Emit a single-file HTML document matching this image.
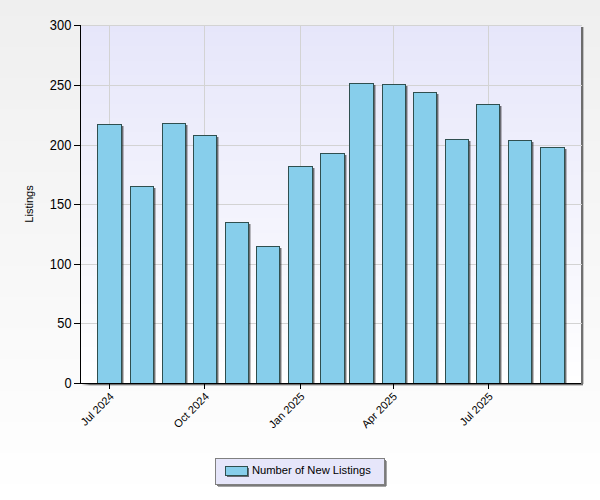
<!DOCTYPE html><html><head><meta charset="utf-8"><style>html,body{margin:0;padding:0;width:600px;height:500px;overflow:hidden;background:#f8f8f8}svg{display:block}</style></head><body><svg width="600" height="500" shape-rendering="crispEdges"><defs><linearGradient id="bg" x1="0" y1="0" x2="0" y2="1"><stop offset="0" stop-color="#f0f0f0"/><stop offset="1" stop-color="#fdfdfd"/></linearGradient><linearGradient id="pa" x1="0" y1="0" x2="0" y2="1"><stop offset="0" stop-color="#e6e6fa"/><stop offset="1" stop-color="#ffffff"/></linearGradient><linearGradient id="shr" x1="0" y1="0" x2="1" y2="0"><stop offset="0" stop-color="#000" stop-opacity="0.55"/><stop offset="1" stop-color="#000" stop-opacity="0.15"/></linearGradient><linearGradient id="shb" x1="0" y1="0" x2="0" y2="1"><stop offset="0" stop-color="#000" stop-opacity="0.55"/><stop offset="1" stop-color="#000" stop-opacity="0.15"/></linearGradient><linearGradient id="fadeb1" gradientUnits="userSpaceOnUse" x1="82" y1="0" x2="90" y2="0"><stop offset="0" stop-color="#000" stop-opacity="0.05"/><stop offset="1" stop-color="#000" stop-opacity="0.55"/></linearGradient><linearGradient id="fadeb2" gradientUnits="userSpaceOnUse" x1="82" y1="0" x2="90" y2="0"><stop offset="0" stop-color="#000" stop-opacity="0.02"/><stop offset="1" stop-color="#000" stop-opacity="0.2"/></linearGradient></defs><rect x="0" y="0" width="600" height="16" fill="#efefef"/><rect x="0" y="16" width="600" height="31" fill="#f0f0f0"/><rect x="0" y="47" width="600" height="31" fill="#f1f1f1"/><rect x="0" y="78" width="600" height="31" fill="#f2f2f2"/><rect x="0" y="109" width="600" height="32" fill="#f3f3f3"/><rect x="0" y="141" width="600" height="31" fill="#f4f4f4"/><rect x="0" y="172" width="600" height="31" fill="#f5f5f5"/><rect x="0" y="203" width="600" height="31" fill="#f6f6f6"/><rect x="0" y="234" width="600" height="32" fill="#f7f7f7"/><rect x="0" y="266" width="600" height="31" fill="#f8f8f8"/><rect x="0" y="297" width="600" height="31" fill="#f9f9f9"/><rect x="0" y="328" width="600" height="31" fill="#fafafa"/><rect x="0" y="359" width="600" height="32" fill="#fbfbfb"/><rect x="0" y="391" width="600" height="31" fill="#fcfcfc"/><rect x="0" y="422" width="600" height="31" fill="#fdfdfd"/><rect x="0" y="453" width="600" height="31" fill="#fefefe"/><rect x="0" y="484" width="600" height="16" fill="#ffffff"/><rect x="581" y="27" width="2" height="358" fill="#000" fill-opacity="0.55"/><rect x="583" y="27" width="1" height="357" fill="#000" fill-opacity="0.2"/><rect x="581" y="385" width="2" height="1" fill="#000" fill-opacity="0.2"/><rect x="82" y="384" width="499" height="1" fill="url(#fadeb1)"/><rect x="82" y="385" width="499" height="1" fill="url(#fadeb2)"/><rect x="81" y="25" width="500" height="7" fill="#e6e6fa"/><rect x="81" y="32" width="500" height="14" fill="#e7e7fa"/><rect x="81" y="46" width="500" height="15" fill="#e8e8fa"/><rect x="81" y="61" width="500" height="14" fill="#e9e9fb"/><rect x="81" y="75" width="500" height="14" fill="#eaeafb"/><rect x="81" y="89" width="500" height="15" fill="#ebebfb"/><rect x="81" y="104" width="500" height="14" fill="#ececfb"/><rect x="81" y="118" width="500" height="14" fill="#ededfb"/><rect x="81" y="132" width="500" height="15" fill="#eeeefc"/><rect x="81" y="147" width="500" height="14" fill="#efeffc"/><rect x="81" y="161" width="500" height="14" fill="#f0f0fc"/><rect x="81" y="175" width="500" height="15" fill="#f1f1fc"/><rect x="81" y="190" width="500" height="14" fill="#f2f2fc"/><rect x="81" y="204" width="500" height="14" fill="#f3f3fd"/><rect x="81" y="218" width="500" height="15" fill="#f4f4fd"/><rect x="81" y="233" width="500" height="14" fill="#f5f5fd"/><rect x="81" y="247" width="500" height="14" fill="#f6f6fd"/><rect x="81" y="261" width="500" height="15" fill="#f7f7fd"/><rect x="81" y="276" width="500" height="14" fill="#f8f8fe"/><rect x="81" y="290" width="500" height="14" fill="#f9f9fe"/><rect x="81" y="304" width="500" height="15" fill="#fafafe"/><rect x="81" y="319" width="500" height="14" fill="#fbfbfe"/><rect x="81" y="333" width="500" height="14" fill="#fcfcfe"/><rect x="81" y="347" width="500" height="15" fill="#fdfdff"/><rect x="81" y="362" width="500" height="14" fill="#fefeff"/><rect x="81" y="376" width="500" height="7" fill="#ffffff"/><rect x="81" y="25" width="501" height="1" fill="#d3d3d3"/><rect x="81" y="85" width="501" height="1" fill="#d3d3d3"/><rect x="81" y="145" width="501" height="1" fill="#d3d3d3"/><rect x="81" y="204" width="501" height="1" fill="#d3d3d3"/><rect x="81" y="264" width="501" height="1" fill="#d3d3d3"/><rect x="81" y="323" width="501" height="1" fill="#d3d3d3"/><rect x="109" y="25" width="1" height="358" fill="#d3d3d3"/><rect x="204" y="25" width="1" height="358" fill="#d3d3d3"/><rect x="300" y="25" width="1" height="358" fill="#d3d3d3"/><rect x="393" y="25" width="1" height="358" fill="#d3d3d3"/><rect x="488" y="25" width="1" height="358" fill="#d3d3d3"/><rect x="122" y="126" width="1" height="257" fill="#000" fill-opacity="0.55"/><rect x="123" y="126" width="1" height="257" fill="#000" fill-opacity="0.25"/><rect x="97" y="124" width="25" height="260" fill="#2f4f4f"/><rect x="98" y="125" width="23" height="258" fill="#87ceeb"/><rect x="154" y="188" width="1" height="195" fill="#000" fill-opacity="0.55"/><rect x="155" y="188" width="1" height="195" fill="#000" fill-opacity="0.25"/><rect x="130" y="186" width="24" height="198" fill="#2f4f4f"/><rect x="131" y="187" width="22" height="196" fill="#87ceeb"/><rect x="186" y="125" width="1" height="258" fill="#000" fill-opacity="0.55"/><rect x="187" y="125" width="1" height="258" fill="#000" fill-opacity="0.25"/><rect x="162" y="123" width="24" height="261" fill="#2f4f4f"/><rect x="163" y="124" width="22" height="259" fill="#87ceeb"/><rect x="217" y="137" width="1" height="246" fill="#000" fill-opacity="0.55"/><rect x="218" y="137" width="1" height="246" fill="#000" fill-opacity="0.25"/><rect x="193" y="135" width="24" height="249" fill="#2f4f4f"/><rect x="194" y="136" width="22" height="247" fill="#87ceeb"/><rect x="249" y="224" width="1" height="159" fill="#000" fill-opacity="0.55"/><rect x="250" y="224" width="1" height="159" fill="#000" fill-opacity="0.25"/><rect x="225" y="222" width="24" height="162" fill="#2f4f4f"/><rect x="226" y="223" width="22" height="160" fill="#87ceeb"/><rect x="280" y="248" width="1" height="135" fill="#000" fill-opacity="0.55"/><rect x="281" y="248" width="1" height="135" fill="#000" fill-opacity="0.25"/><rect x="256" y="246" width="24" height="138" fill="#2f4f4f"/><rect x="257" y="247" width="22" height="136" fill="#87ceeb"/><rect x="313" y="168" width="1" height="215" fill="#000" fill-opacity="0.55"/><rect x="314" y="168" width="1" height="215" fill="#000" fill-opacity="0.25"/><rect x="288" y="166" width="25" height="218" fill="#2f4f4f"/><rect x="289" y="167" width="23" height="216" fill="#87ceeb"/><rect x="345" y="155" width="1" height="228" fill="#000" fill-opacity="0.55"/><rect x="346" y="155" width="1" height="228" fill="#000" fill-opacity="0.25"/><rect x="320" y="153" width="25" height="231" fill="#2f4f4f"/><rect x="321" y="154" width="23" height="229" fill="#87ceeb"/><rect x="374" y="85" width="1" height="298" fill="#000" fill-opacity="0.55"/><rect x="375" y="85" width="1" height="298" fill="#000" fill-opacity="0.25"/><rect x="349" y="83" width="25" height="301" fill="#2f4f4f"/><rect x="350" y="84" width="23" height="299" fill="#87ceeb"/><rect x="406" y="86" width="1" height="297" fill="#000" fill-opacity="0.55"/><rect x="407" y="86" width="1" height="297" fill="#000" fill-opacity="0.25"/><rect x="382" y="84" width="24" height="300" fill="#2f4f4f"/><rect x="383" y="85" width="22" height="298" fill="#87ceeb"/><rect x="437" y="94" width="1" height="289" fill="#000" fill-opacity="0.55"/><rect x="438" y="94" width="1" height="289" fill="#000" fill-opacity="0.25"/><rect x="413" y="92" width="24" height="292" fill="#2f4f4f"/><rect x="414" y="93" width="22" height="290" fill="#87ceeb"/><rect x="469" y="141" width="1" height="242" fill="#000" fill-opacity="0.55"/><rect x="470" y="141" width="1" height="242" fill="#000" fill-opacity="0.25"/><rect x="445" y="139" width="24" height="245" fill="#2f4f4f"/><rect x="446" y="140" width="22" height="243" fill="#87ceeb"/><rect x="500" y="106" width="1" height="277" fill="#000" fill-opacity="0.55"/><rect x="501" y="106" width="1" height="277" fill="#000" fill-opacity="0.25"/><rect x="476" y="104" width="24" height="280" fill="#2f4f4f"/><rect x="477" y="105" width="22" height="278" fill="#87ceeb"/><rect x="532" y="142" width="1" height="241" fill="#000" fill-opacity="0.55"/><rect x="533" y="142" width="1" height="241" fill="#000" fill-opacity="0.25"/><rect x="508" y="140" width="24" height="244" fill="#2f4f4f"/><rect x="509" y="141" width="22" height="242" fill="#87ceeb"/><rect x="565" y="149" width="1" height="234" fill="#000" fill-opacity="0.55"/><rect x="566" y="149" width="1" height="234" fill="#000" fill-opacity="0.25"/><rect x="540" y="147" width="25" height="237" fill="#2f4f4f"/><rect x="541" y="148" width="23" height="235" fill="#87ceeb"/><rect x="80" y="25" width="1" height="359" fill="#000"/><rect x="80" y="383" width="501" height="1" fill="#000"/><rect x="74" y="25" width="6" height="1" fill="#000"/><rect x="74" y="85" width="6" height="1" fill="#000"/><rect x="74" y="145" width="6" height="1" fill="#000"/><rect x="74" y="204" width="6" height="1" fill="#000"/><rect x="74" y="264" width="6" height="1" fill="#000"/><rect x="74" y="323" width="6" height="1" fill="#000"/><rect x="74" y="383" width="6" height="1" fill="#000"/><rect x="109" y="384" width="1" height="5" fill="#000"/><rect x="204" y="384" width="1" height="5" fill="#000"/><rect x="300" y="384" width="1" height="5" fill="#000"/><rect x="393" y="384" width="1" height="5" fill="#000"/><rect x="488" y="384" width="1" height="5" fill="#000"/></svg><div style="position:absolute;left:0;top:0;width:600px;height:500px;font-family:'Liberation Sans', sans-serif;color:#000"><div style="position:absolute;right:528.5px;top:16.5px;font-size:14px;line-height:16px;white-space:nowrap;transform:scaleX(0.92);transform-origin:100% 50%">300</div><div style="position:absolute;right:528.5px;top:76.5px;font-size:14px;line-height:16px;white-space:nowrap;transform:scaleX(0.92);transform-origin:100% 50%">250</div><div style="position:absolute;right:528.5px;top:136.5px;font-size:14px;line-height:16px;white-space:nowrap;transform:scaleX(0.92);transform-origin:100% 50%">200</div><div style="position:absolute;right:528.5px;top:195.5px;font-size:14px;line-height:16px;white-space:nowrap;transform:scaleX(0.92);transform-origin:100% 50%">150</div><div style="position:absolute;right:528.5px;top:255.5px;font-size:14px;line-height:16px;white-space:nowrap;transform:scaleX(0.92);transform-origin:100% 50%">100</div><div style="position:absolute;right:528.5px;top:314.5px;font-size:14px;line-height:16px;white-space:nowrap;transform:scaleX(0.92);transform-origin:100% 50%">50</div><div style="position:absolute;right:528.5px;top:374.5px;font-size:14px;line-height:16px;white-space:nowrap;transform:scaleX(0.92);transform-origin:100% 50%">0</div><div style="position:absolute;left:28.6px;top:204px;width:0;height:0"><div style="position:absolute;left:0;top:0;transform:translate(-50%,-50%) rotate(-90deg);font-size:11px;line-height:13px;white-space:nowrap">Listings</div></div><div style="position:absolute;left:107.5px;top:390px;width:0;height:0"><div style="position:absolute;right:0;top:0;transform-origin:100% 0;transform:rotate(-45deg);font-size:11px;line-height:13px;white-space:nowrap">Jul 2024</div></div><div style="position:absolute;left:202.5px;top:390px;width:0;height:0"><div style="position:absolute;right:0;top:0;transform-origin:100% 0;transform:rotate(-45deg);font-size:11px;line-height:13px;white-space:nowrap">Oct 2024</div></div><div style="position:absolute;left:298.5px;top:390px;width:0;height:0"><div style="position:absolute;right:0;top:0;transform-origin:100% 0;transform:rotate(-45deg);font-size:11px;line-height:13px;white-space:nowrap">Jan 2025</div></div><div style="position:absolute;left:390.5px;top:390px;width:0;height:0"><div style="position:absolute;right:0;top:0;transform-origin:100% 0;transform:rotate(-45deg);font-size:11px;line-height:13px;white-space:nowrap">Apr 2025</div></div><div style="position:absolute;left:486.5px;top:390px;width:0;height:0"><div style="position:absolute;right:0;top:0;transform-origin:100% 0;transform:rotate(-45deg);font-size:11px;line-height:13px;white-space:nowrap">Jul 2025</div></div></div><svg style="position:absolute;left:0;top:0" width="600" height="500" shape-rendering="crispEdges"><rect x="385" y="460" width="1" height="26" fill="#000" fill-opacity="0.52"/><rect x="386" y="461" width="1" height="25" fill="#000" fill-opacity="0.35"/><rect x="217" y="485" width="168" height="1" fill="#000" fill-opacity="0.52"/><rect x="218" y="486" width="168" height="1" fill="#000" fill-opacity="0.35"/><rect x="215" y="458" width="170" height="27" fill="#808080"/><rect x="216" y="459" width="168" height="25" fill="#e6e6fa"/><rect x="248" y="468" width="1" height="9" fill="#000" fill-opacity="0.55"/><rect x="227" y="476" width="21" height="1" fill="#000" fill-opacity="0.55"/><rect x="225" y="466" width="23" height="10" fill="#2f4f4f"/><rect x="226" y="467" width="21" height="8" fill="#87ceeb"/></svg><div style="position:absolute;left:252px;top:463px;font-family:'Liberation Sans', sans-serif;font-size:11.2px;line-height:14px;white-space:nowrap">Number of New Listings</div></body></html>
